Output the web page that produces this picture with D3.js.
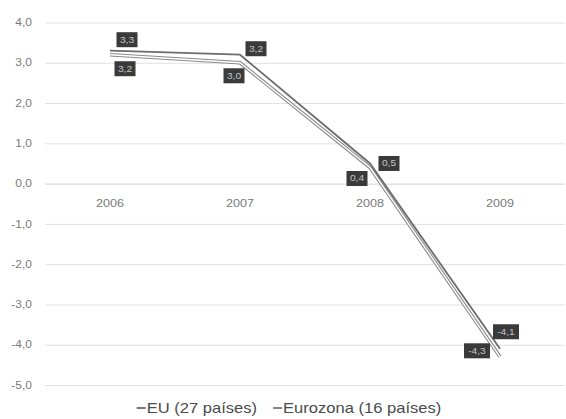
<!DOCTYPE html>
<html>
<head>
<meta charset="utf-8">
<script src="https://cdn.jsdelivr.net/npm/d3@7"></script>
<style>
  html, body { margin: 0; padding: 0; background: #ffffff; }
  text { font-family: "Liberation Sans", Arial, sans-serif; }
</style>
</head>
<body>
<svg id="chart" width="566" height="419"></svg>
<script>
// Real GDP growth (%), EU-27 vs Eurozone-16
const years = ["2006", "2007", "2008", "2009"];
const euValues = [3.3, 3.2, 0.5, -4.1];
const eurozoneValues = [3.2, 3.0, 0.4, -4.3];
const seriesNames = ["EU (27 países)", "Eurozona (16 países)"];
const yTickValues = [4, 3, 2, 1, 0, -1, -2, -3, -4, -5];

// Label nudges (px) relative to each point, per series
const euLabelNudge = [[17, -11], [16, -6], [19, 0], [6, -17]];
const eurozoneLabelNudge = [[15, 14], [-6, 13], [-13, 11], [-23, -6]];

const width = 566, height = 419;
const margin = { left: 45, right: 1, top: 22.5, bottom: 34 };
const textStretch = 1.2; // glyphs are drawn slightly wide

const svg = d3.select("#chart");

const x = d3.scalePoint()
  .domain(years)
  .range([margin.left, width - margin.right])
  .padding(0.5);

const y = d3.scaleLinear()
  .domain([-5, 4])
  .range([height - margin.bottom, margin.top]);

const fmt = v => d3.format(".1f")(v).replace(".", ",").replace("\u2212", "-");

// Horizontal gridlines
const grid = svg.append("g")
  .attr("transform", `translate(${margin.left},0)`)
  .call(d3.axisLeft(y)
    .tickValues(yTickValues)
    .tickSize(-(width - margin.right - margin.left))
    .tickFormat(""));
grid.select(".domain").remove();
grid.selectAll(".tick line")
  .attr("stroke", d => d === 0 ? "#d2d2d2" : "#e0e0e0")
  .attr("stroke-width", 1);

// Value axis labels
const yAxis = svg.append("g")
  .attr("transform", `translate(${margin.left},0)`)
  .call(d3.axisLeft(y).tickValues(yTickValues).tickSize(0).tickFormat(fmt));
yAxis.select(".domain").remove();
yAxis.selectAll(".tick text")
  .attr("x", -13 / textStretch)
  .attr("transform", `scale(${textStretch},1)`)
  .attr("font-size", 10)
  .attr("fill", "#7a7a7a");

// Category labels just under the zero line
svg.append("g")
  .selectAll("text")
  .data(years)
  .join("text")
  .attr("transform", d => `translate(${x(d)},${y(0) + 23}) scale(${textStretch},1)`)
  .attr("text-anchor", "middle")
  .attr("font-size", 10.5)
  .attr("fill", "#7a7a7a")
  .text(d => d);

const line = d3.line()
  .x((d, i) => x(years[i]))
  .y(d => y(d));

// Eurozone: outlined pale line
svg.append("path")
  .datum(eurozoneValues)
  .attr("d", line)
  .attr("fill", "none")
  .attr("stroke", "#8a8a8a")
  .attr("stroke-width", 3.6);
svg.append("path")
  .datum(eurozoneValues)
  .attr("d", line)
  .attr("fill", "none")
  .attr("stroke", "#ffffff")
  .attr("stroke-width", 1.4);

// EU: solid grey line
svg.append("path")
  .datum(euValues)
  .attr("d", line)
  .attr("fill", "none")
  .attr("stroke", "#6c6c6c")
  .attr("stroke-width", 1.8);

// Data labels in dark boxes
function drawLabels(values, nudges) {
  const g = svg.append("g")
    .selectAll("g")
    .data(values)
    .join("g")
    .attr("transform", (d, i) =>
      `translate(${x(years[i]) + nudges[i][0]},${y(d) + nudges[i][1]})`);
  g.append("rect")
    .attr("x", d => -(fmt(d).length * 5 + 6) / 2)
    .attr("y", -7.5)
    .attr("width", d => fmt(d).length * 5 + 6)
    .attr("height", 15)
    .attr("fill", "#3a3a3a");
  g.append("text")
    .attr("transform", `scale(${textStretch},1)`)
    .attr("text-anchor", "middle")
    .attr("dy", "0.35em")
    .attr("font-size", 8.5)
    .attr("fill", "#c4c4c4")
    .text(d => fmt(d));
}
drawLabels(euValues, euLabelNudge);
drawLabels(eurozoneValues, eurozoneLabelNudge);

// Legend
const legend = svg.append("g");
const legendY = 408;
const entries = legend.selectAll("g")
  .data(seriesNames)
  .join("g");
entries.append("line")
  .attr("x1", 0).attr("x2", 9)
  .attr("y1", 0).attr("y2", 0)
  .attr("stroke", (d, i) => i === 0 ? "#555555" : "#666666")
  .attr("stroke-width", 1.6);
entries.append("text")
  .attr("transform", `translate(10,0) scale(${textStretch},1)`)
  .attr("dy", "0.35em")
  .attr("font-size", 13.8)
  .attr("fill", "#4a4a4a")
  .text(d => d);

const gap = 16;
const widthsL = [];
entries.each(function () {
  const t = d3.select(this).select("text").node();
  widthsL.push(10 + t.getComputedTextLength() * textStretch);
});
const total = d3.sum(widthsL) + gap * (widthsL.length - 1);
let cx = 289 - total / 2;
entries.attr("transform", (d, i) => {
  const pos = cx;
  cx += widthsL[i] + gap;
  return `translate(${pos},${legendY})`;
});
</script>
</body>
</html>
